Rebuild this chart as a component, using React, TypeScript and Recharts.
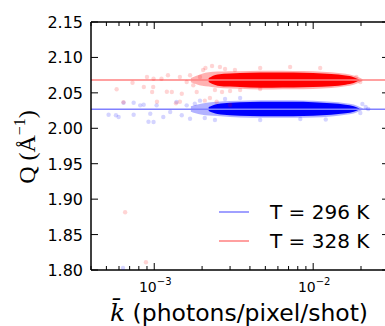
import React from 'react'
import {
  ComposedChart,
  Area,
  Scatter,
  XAxis,
  YAxis,
  ReferenceLine,
  Legend,
  Label,
} from 'recharts'

// k grid for the dense cluster envelopes (photons/pixel/shot)
const kGrid = [1.7e-3, 2.0e-3, 2.2e-3, 2.5e-3, 3e-3, 4e-3, 5.5e-3, 7.5e-3, 1e-2, 1.3e-2, 1.6e-2, 1.8e-2, 1.95e-2, 2.05e-2]

// T = 328 K, dense core [low, high] and faint halo
const redCore: ([number, number] | null)[] = [
  null, null, [2.0652, 2.0708], [2.0602, 2.0758], [2.0588, 2.0772], [2.0577, 2.0783], [2.0573, 2.0787],
  [2.0574, 2.0786], [2.0581, 2.0779], [2.0595, 2.0765], [2.0616, 2.0744], [2.0638, 2.0722], [2.0673, 2.0687], null,
]
const redHalo: [number, number][] = [
  [2.065, 2.071], [2.06, 2.077], [2.059, 2.079], [2.0572, 2.08], [2.056, 2.0805], [2.0552, 2.081], [2.0548, 2.0812],
  [2.055, 2.081], [2.0556, 2.0805], [2.057, 2.079], [2.0592, 2.0768], [2.0615, 2.0745], [2.0645, 2.0715], [2.067, 2.069],
]

// T = 296 K
const blueCore: ([number, number] | null)[] = [
  null, null, [2.0244, 2.03], [2.0201, 2.0343], [2.0183, 2.0361], [2.0173, 2.0371], [2.017, 2.0374],
  [2.017, 2.0374], [2.0176, 2.0368], [2.019, 2.0354], [2.0211, 2.0333], [2.0232, 2.0312], [2.0265, 2.0279], null,
]
const blueHalo: [number, number][] = [
  [2.0235, 2.031], [2.019, 2.035], [2.018, 2.0365], [2.0172, 2.0375], [2.016, 2.0385], [2.015, 2.0393], [2.0147, 2.0397],
  [2.0148, 2.0396], [2.0153, 2.039], [2.0168, 2.0376], [2.019, 2.0355], [2.021, 2.0334], [2.024, 2.0305], [2.0262, 2.0284],
]

// sparse shots
const redK = [5.8e-4, 6.56e-4, 8.87e-4, 7.3e-4, 8.6e-4, 9.0e-4, 9.9e-4, 9.7e-4, 9.85e-4, 1.11e-3, 1.22e-3, 1.29e-3, 1.45e-3, 1.49e-3, 1.6e-3, 1.68e-3, 1.76e-3, 1.85e-3, 1.94e-3, 1.2e-3, 1.37e-3, 1.04e-3, 2.08e-3, 2.24e-3, 2.03e-3, 2.1e-3, 2.31e-3, 2.59e-3, 2.79e-3, 3.22e-3, 2.41e-3, 2.67e-3, 3.0e-3, 3.47e-3, 4.64e-3, 2.47e-3, 3.0e-3, 1.45e-3, 4.64e-3, 7.16e-3, 1.107e-2, 1.98e-2, 1.87e-2, 6.4e-4]
const redQ = [2.055, 1.8814, 1.811, 2.0643, 2.0583, 2.0724, 2.07, 2.0512, 2.0583, 2.07, 2.0748, 2.0512, 2.0724, 2.0488, 2.0653, 2.0748, 2.0607, 2.0512, 2.0724, 2.0516, 2.0353, 2.0375, 2.039, 2.0427, 2.0823, 2.0851, 2.0879, 2.0865, 2.0837, 2.0823, 2.054, 2.0512, 2.0526, 2.054, 2.0554, 2.0375, 2.0329, 2.0375, 2.0851, 2.0865, 2.0851, 2.0653, 2.0724, 2.0367]

const blueK = [5.16e-4, 5.74e-4, 5.97e-4, 6.41e-4, 7.42e-4, 7.42e-4, 8.16e-4, 8.58e-4, 9.44e-4, 9.9e-4, 1.035e-3, 1.14e-3, 1.26e-3, 1.38e-3, 1.49e-3, 1.6e-3, 1.68e-3, 1.8e-3, 6.36e-4, 9.2e-4, 1.94e-3, 2.08e-3, 2.41e-3, 2.79e-3, 3.47e-3, 4.64e-3, 8.3e-3, 1.98e-2, 2.14e-2, 2.22e-2, 2.04e-2, 1.2e-2]
const blueQ = [2.0192, 2.0183, 2.0159, 2.0361, 2.0361, 2.0192, 2.0324, 2.0333, 2.0206, 2.0089, 2.0324, 2.0159, 2.023, 2.0371, 2.0183, 2.0324, 2.0135, 2.0347, 1.803, 2.0093, 2.039, 2.0145, 2.0117, 2.0413, 2.0427, 2.0117, 2.0131, 2.0216, 2.03, 2.0272, 2.0343, 2.0125]

const redMean = 2.068
const blueMean = 2.027

const xTicks = [4e-4, 5e-4, 6e-4, 7e-4, 8e-4, 9e-4, 1e-3, 2e-3, 3e-3, 4e-3, 5e-3, 6e-3, 7e-3, 8e-3, 9e-3, 1e-2, 2e-2, 3e-2]
const yTicks = [1.8, 1.85, 1.9, 1.95, 2.0, 2.05, 2.1, 2.15]

const legendItems = [
  { label: 'T = 296 K', color: '#8080ff' },
  { label: 'T = 328 K', color: '#ff8080' },
]

const rows = kGrid.map((k, i) => ({
  k,
  redCore: redCore[i],
  redHalo: redHalo[i],
  blueCore: blueCore[i],
  blueHalo: blueHalo[i],
}))
const redPts = redK.map((k, i) => ({ k, q: redQ[i] }))
const bluePts = blueK.map((k, i) => ({ k, q: blueQ[i] }))

const SANS = 'DejaVu Sans'

const isMajor = (v: number) => {
  const e = Math.log10(v)
  return Math.abs(e - Math.round(e)) < 1e-6
}

function BottomTick({ x, y, payload }: any) {
  const v = payload.value
  const major = isMajor(v)
  return (
    <g>
      <line x1={x} x2={x} y1={y} y2={y - (major ? 7 : 4)} stroke="#000" strokeWidth={1} />
      {major && (
        <text x={x + 1} y={y + 22} textAnchor="middle" fontFamily={SANS} fontSize={14} fill="#000">
          10
          <tspan fontSize={10} dy={-7.5}>{'\u2212' + Math.abs(Math.round(Math.log10(v)))}</tspan>
        </text>
      )}
    </g>
  )
}

function TopTick({ x, y, payload }: any) {
  const major = isMajor(payload.value)
  return <line x1={x} x2={x} y1={y} y2={y + (major ? 7 : 4)} stroke="#000" strokeWidth={1} />
}

function LeftTick({ x, y, payload }: any) {
  return (
    <g>
      <line x1={x + 8} x2={x + 15} y1={y} y2={y} stroke="#000" strokeWidth={1} />
      <text x={x} y={y} dy={6} textAnchor="end" fontFamily={SANS} fontSize={16} fill="#000">
        {Number(payload.value).toFixed(2)}
      </text>
    </g>
  )
}

function RightTick({ x, y }: any) {
  return <line x1={x - 7} x2={x} y1={y} y2={y} stroke="#000" strokeWidth={1} />
}

const dot = (color: string) => (p: any) => (
  <circle cx={p.cx} cy={p.cy} r={2.2} fill={color} fillOpacity={0.17} />
)

function renderLegend() {
  return (
    <div style={{ fontFamily: SANS, fontSize: 20, color: '#000' }}>
      {legendItems.map((it) => (
        <div key={it.label} style={{ display: 'flex', alignItems: 'center', height: 28.5 }}>
          <svg width={30} height={4} style={{ marginLeft: 4, marginRight: 21 }}>
            <line x1={0} x2={30} y1={2} y2={2} stroke={it.color} strokeWidth={1.5} />
          </svg>
          <span>{it.label}</span>
        </div>
      ))}
    </div>
  )
}

export default function App() {
  return (
    <div style={{ position: 'absolute', left: 0, top: 0, width: 385, height: 326, overflow: 'hidden', background: '#fff' }}>
      <ComposedChart width={400} height={326} data={rows} margin={{ top: 21, right: 10, bottom: 0, left: 0 }}>
        <XAxis
          dataKey="k"
          type="number"
          scale="log"
          domain={[4e-4, 3e-2]}
          allowDataOverflow
          ticks={xTicks}
          interval={0}
          height={56}
          tickSize={0}
          tickMargin={0}
          tick={<BottomTick />}
          axisLine={{ stroke: '#000', strokeWidth: 1.5 }}
        >
          <Label
            content={() => (
              <text x={239} y={321} textAnchor="middle" fill="#000">
                <tspan fontFamily="DejaVu Serif" fontStyle="italic" fontSize={25}>{'k\u0304'}</tspan>
                <tspan fontFamily={SANS} fontSize={23.5}>{' (photons/pixel/shot)'}</tspan>
              </text>
            )}
          />
        </XAxis>
        <XAxis
          xAxisId="top"
          orientation="top"
          dataKey="k"
          type="number"
          scale="log"
          domain={[4e-4, 3e-2]}
          allowDataOverflow
          ticks={xTicks}
          interval={0}
          height={1}
          tickSize={0}
          tickMargin={0}
          tick={<TopTick />}
          axisLine={{ stroke: '#000', strokeWidth: 1.5 }}
        />
        <YAxis
          type="number"
          domain={[1.8, 2.15]}
          allowDataOverflow
          ticks={yTicks}
          interval={0}
          width={91}
          tickSize={0}
          tickMargin={8}
          tick={<LeftTick />}
          axisLine={{ stroke: '#000', strokeWidth: 1.5 }}
        >
          <Label
            content={() => (
              <text
                x={27}
                y={147}
                transform="rotate(-90 27 147)"
                textAnchor="middle"
                dy={8}
                fontFamily="Liberation Serif"
                fontSize={24}
                fill="#000"
              >
                Q (Å<tspan fontSize={16} dy={-10}>{'\u22121'}</tspan>
                <tspan dy={10}>)</tspan>
              </text>
            )}
          />
        </YAxis>
        <YAxis
          yAxisId="right"
          orientation="right"
          type="number"
          domain={[1.8, 2.15]}
          allowDataOverflow
          ticks={yTicks}
          interval={0}
          width={1}
          tickSize={0}
          tickMargin={0}
          tick={<RightTick />}
          axisLine={{ stroke: '#000', strokeWidth: 1.5 }}
        />
        <Scatter data={bluePts} dataKey="q" shape={dot('#0000ff')} isAnimationActive={false} />
        <Scatter data={redPts} dataKey="q" shape={dot('#ff0000')} isAnimationActive={false} />
        <Area dataKey="blueHalo" type="monotone" stroke="none" fill="#0000ff" fillOpacity={0.3} isAnimationActive={false} dot={false} activeDot={false} />
        <Area dataKey="blueCore" type="monotone" stroke="none" fill="#0000ff" fillOpacity={1} isAnimationActive={false} dot={false} activeDot={false} />
        <Area dataKey="redHalo" type="monotone" stroke="none" fill="#ff0000" fillOpacity={0.3} isAnimationActive={false} dot={false} activeDot={false} />
        <Area dataKey="redCore" type="monotone" stroke="none" fill="#ff0000" fillOpacity={1} isAnimationActive={false} dot={false} activeDot={false} />
        <ReferenceLine y={blueMean} stroke="#8080ff" strokeWidth={1.5} />
        <ReferenceLine y={redMean} stroke="#ff8080" strokeWidth={1.5} />
        <Legend
          layout="vertical"
          align="center"
          verticalAlign="middle"
          content={renderLegend}
          wrapperStyle={{ left: 215, top: 198, width: 170 }}
        />
      </ComposedChart>
    </div>
  )
}
